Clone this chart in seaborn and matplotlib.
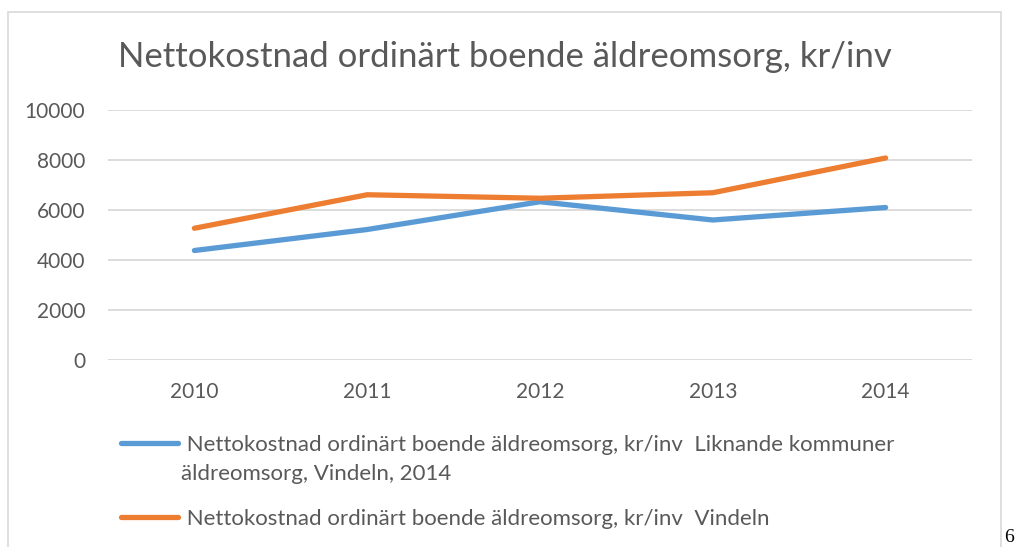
import seaborn as sns
import pandas as pd
import matplotlib.pyplot as plt
from matplotlib.patches import Rectangle

years = ["2010", "2011", "2012", "2013", "2014"]

liknande = [4380, 5220, 6330, 5600, 6100]
vindeln = [5270, 6610, 6470, 6690, 8080]

series_names = [
    "Nettokostnad ordinärt boende äldreomsorg, kr/inv  Liknande kommuner\näldreomsorg, Vindeln, 2014",
    "Nettokostnad ordinärt boende äldreomsorg, kr/inv  Vindeln",
]

title = "Nettokostnad ordinärt boende äldreomsorg, kr/inv"

yticks = [0, 2000, 4000, 6000, 8000, 10000]

df = pd.DataFrame({
    "year": years * 2,
    "value": liknande + vindeln,
    "series": [series_names[0]] * len(years) + [series_names[1]] * len(years),
})

sns.set_theme(style="white")
plt.rcParams["font.family"] = ["Lato", "DejaVu Sans"]

text_col = "#595959"
grid_col = "#d9d9d9"

fig = plt.figure(figsize=(10.16, 5.47), dpi=100)

# chart frame
fig.patches.append(
    Rectangle((8 / 1016, -0.05), 993 / 1016, 1.05 - 12 / 547,
              transform=fig.transFigure, fill=False,
              edgecolor=grid_col, linewidth=1.2)
)

ax = fig.add_axes([108 / 1016, 1 - 360 / 547, 864 / 1016, 250 / 547])

sns.lineplot(
    data=df,
    x="year",
    y="value",
    hue="series",
    palette=["#5B9BD5", "#ED7D31"],
    linewidth=3.8,
    ax=ax,
    legend=False,
    solid_capstyle="round",
)

ax.set_xlim(-0.5, 4.5)
ax.set_ylim(0, 10000)
ax.set_yticks(yticks)
ax.set_yticklabels([str(t) for t in yticks])
ax.set_xlabel("")
ax.set_ylabel("")

for s in ax.spines.values():
    s.set_visible(False)

ax.grid(axis="y", color=grid_col, linewidth=1.3)
ax.grid(axis="x", visible=False)
ax.set_axisbelow(True)

ax.tick_params(axis="y", length=0, pad=16.5, labelsize=15, labelcolor=text_col)
ax.tick_params(axis="x", length=0, pad=16, labelsize=15, labelcolor=text_col)

fig.text(0.497, 1 - 57 / 547, title, ha="center", va="center",
         fontsize=25, color=text_col)

# legend: first line of each name next to its key, wrapped rest below
first_lines = [" " + n.split("\n")[0] for n in series_names]
handles = ax.get_lines()[:2]
leg = fig.legend(
    handles, first_lines,
    loc="upper left",
    bbox_to_anchor=(121 / 1016, 1 - 435 / 547),
    frameon=False,
    fontsize=16,
    handlelength=2.55,
    handletextpad=0.15,
    labelspacing=2.43,
    borderpad=0,
    borderaxespad=0,
)
for t in leg.get_texts():
    t.set_color(text_col)
for h in leg.legend_handles:
    h.set_linewidth(3.8)

fig.text(181 / 1016, 1 - 474 / 547, series_names[0].split("\n")[1],
         ha="left", va="center", fontsize=16, color=text_col)

fig.text(1004 / 1016, 1 / 547, "6", ha="left", va="bottom",
         fontsize=14, color="black", family="Liberation Serif")

fig.savefig("out.png", dpi=100)
